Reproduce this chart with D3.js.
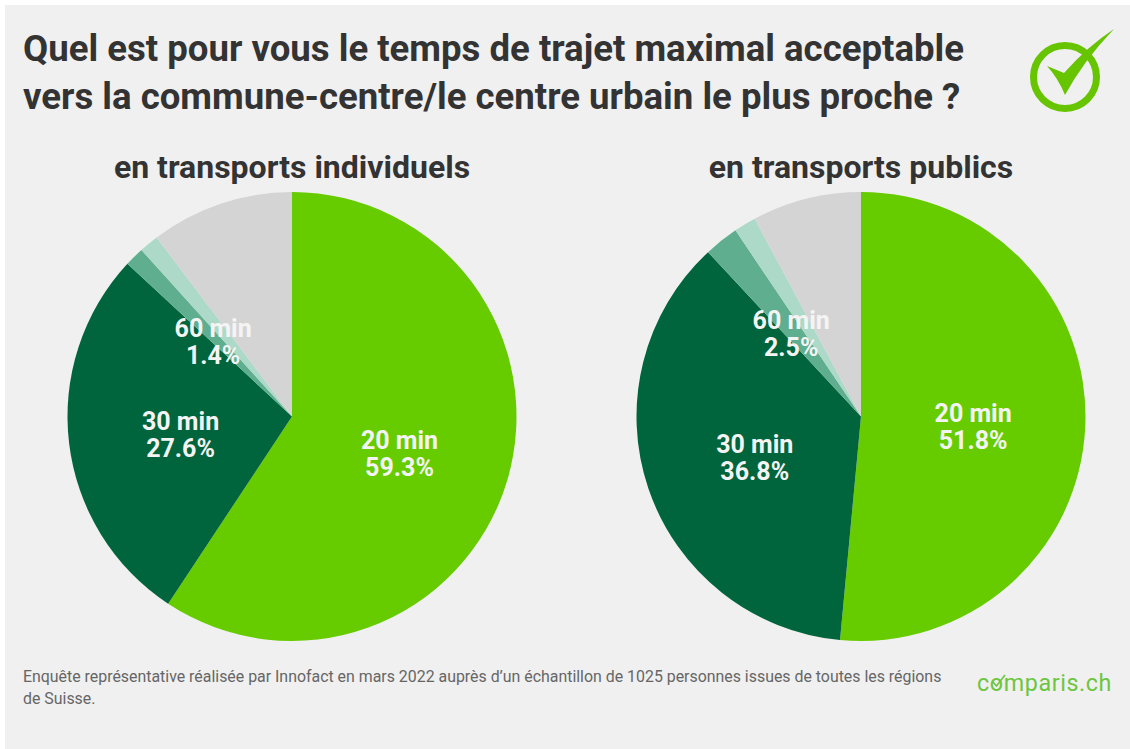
<!DOCTYPE html>
<html lang="fr">
<head>
<meta charset="utf-8">
<script src="https://cdn.jsdelivr.net/npm/d3@7"></script>
<style>
  html, body { margin: 0; padding: 0; background: #fff; }
  svg { display: block; font-family: Roboto, sans-serif; }
  .title { font-size: 36.6px; font-weight: 700; fill: #333; }
  .pie-title { font-size: 32px; font-weight: 700; fill: #333; text-anchor: middle; }
  .slice-label { font-size: 25px; font-weight: 700; fill: #f4f4f4; text-anchor: middle; }
  .note { font-size: 15.9px; fill: #666; }
  .brand { font-size: 23.3px; font-weight: 400; fill: #6cc63f; letter-spacing: 0.6px; }
</style>
</head>
<body>
<div id="chart"></div>
<script>
const titleLines = [
  "Quel est pour vous le temps de trajet maximal acceptable",
  "vers la commune-centre/le centre urbain le plus proche ?"
];
const noteLines = [
  "Enquête représentative réalisée par Innofact en mars 2022 auprès d’un échantillon de 1025 personnes issues de toutes les régions",
  "de Suisse."
];

// the last two slices have no label in the original
const categories = ["20 min", "30 min", "60 min", "", ""];
const individualValues = [59.3, 27.6, 1.4, 1.4, 10.3];
const publicValues = [51.8, 36.8, 2.5, 1.6, 7.9];
const sliceColors = ["#66cc00", "#00643c", "#5fae8f", "#acd9c8", "#d4d4d4"];

const width = 1130;
const height = 749;
const radius = 224.5;

const svg = d3.select("#chart")
  .append("svg")
  .attr("width", width)
  .attr("height", height);

svg.append("rect")
  .attr("x", 5)
  .attr("y", 5)
  .attr("width", width - 5)
  .attr("height", height - 5)
  .attr("fill", "#f0f0f0");

svg.selectAll(".title")
  .data(titleLines)
  .enter()
  .append("text")
  .attr("class", "title")
  .attr("x", 23)
  .attr("y", (d, i) => 61 + i * 48)
  .text(d => d);

drawPie("en transports individuels", individualValues, 292, 416.5);
drawPie("en transports publics", publicValues, 861, 416.5);

svg.selectAll(".note")
  .data(noteLines)
  .enter()
  .append("text")
  .attr("class", "note")
  .attr("x", 23)
  .attr("y", (d, i) => 682 + i * 22)
  .text(d => d);

drawLogo();

function drawPie(title, values, cx, cy) {
  const rows = categories.map((category, i) => ({ category, value: values[i], color: sliceColors[i] }));

  const pie = d3.pie()
    .sort(null)
    .value(d => d.value);

  const arc = d3.arc()
    .innerRadius(0)
    .outerRadius(radius);

  const pieData = pie(rows);

  svg.append("text")
    .attr("class", "pie-title")
    .attr("x", cx)
    .attr("y", 178)
    .text(title);

  const g = svg.append("g")
    .attr("transform", `translate(${cx},${cy})`);

  g.selectAll(".slice")
    .data(pieData)
    .enter()
    .append("path")
    .attr("class", "slice")
    .attr("d", arc)
    .attr("fill", d => d.data.color);

  const labels = g.selectAll(".slice-label")
    .data(pieData.filter(d => d.data.category))
    .enter()
    .append("text")
    .attr("class", "slice-label")
    .attr("transform", d => `translate(${arc.centroid(d)})`);

  labels.append("tspan")
    .attr("x", 0)
    .attr("y", 0)
    .text(d => d.data.category);

  labels.append("tspan")
    .attr("x", 0)
    .attr("y", 27)
    .text(d => `${d.data.value}%`);
}

function drawLogo() {
  const green = "#66c400";
  const logo = svg.append("g");

  logo.append("circle")
    .attr("cx", 1065)
    .attr("cy", 77)
    .attr("r", 31.5)
    .attr("fill", "none")
    .attr("stroke", green)
    .attr("stroke-width", 7);

  logo.append("path")
    .attr("d", "M1047,66 L1064,73 Q1088,46 1114,29 Q1084,60 1065,95 Q1058,78 1047,66 Z")
    .attr("fill", green);

  svg.append("text")
    .attr("class", "brand")
    .attr("x", 977)
    .attr("y", 691)
    .text("comparis.ch");

  // small tick through the "o" of the wordmark
  svg.append("path")
    .attr("d", "M993,682 L996.5,686 L1005,675")
    .attr("fill", "none")
    .attr("stroke", "#6cc63f")
    .attr("stroke-width", 1.6);
}
</script>
</body>
</html>
